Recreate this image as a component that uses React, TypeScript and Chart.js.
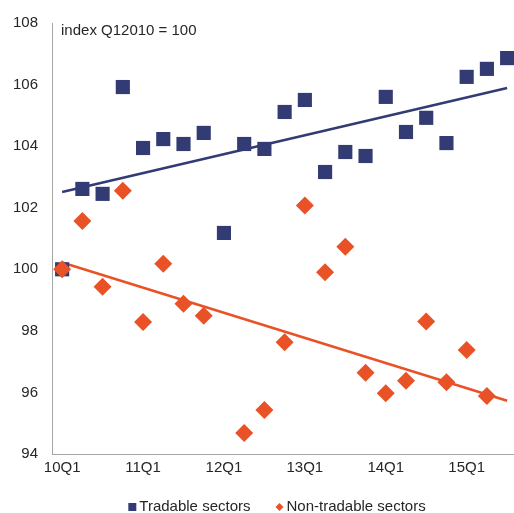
import React, { useEffect, useRef } from "react";
import { Chart, registerables } from "chart.js";

Chart.register(...registerables);

const quarters = [
  "10Q1", "10Q2", "10Q3", "10Q4",
  "11Q1", "11Q2", "11Q3", "11Q4",
  "12Q1", "12Q2", "12Q3", "12Q4",
  "13Q1", "13Q2", "13Q3", "13Q4",
  "14Q1", "14Q2", "14Q3", "14Q4",
  "15Q1", "15Q2", "15Q3",
];

const tradable = [
  100.0, 102.61, 102.45, 105.92, 103.94, 104.23, 104.07, 104.43,
  101.18, 104.07, 103.91, 105.11, 105.5, 103.16, 103.81, 103.68,
  105.6, 104.46, 104.92, 104.1, 106.25, 106.51, 106.86,
];

const nonTradable: (number | null)[] = [
  100.0, 101.57, 99.43, 102.55, 98.29, 100.18, 98.88, 98.49,
  null, 94.68, 95.43, 97.63, 102.07, 99.9, 100.73, 96.64,
  95.97, 96.38, 98.3, 96.33, 97.38, 95.88, null,
];

// trend line end points (first and last quarter)
const tradableTrend = [102.51, 105.89];
const nonTradableTrend = [100.22, 95.73];

const yTicks = [94, 96, 98, 100, 102, 104, 106, 108];
const xTickIndexes = [0, 4, 8, 12, 16, 20];

const NAVY = "#323B74";
const ORANGE = "#E85226";
const TEXT = "#262626";
const FONT = "'Liberation Sans', Arial, sans-serif";

const annotationPlugin = {
  id: "indexNote",
  afterDraw(chart: any) {
    const { ctx, chartArea } = chart;
    ctx.save();
    ctx.fillStyle = TEXT;
    ctx.font = `15px ${FONT}`;
    ctx.textBaseline = "middle";
    ctx.textAlign = "left";
    ctx.fillText("index Q12010 = 100", chartArea.left + 9, chartArea.top + 8);
    ctx.restore();
  },
};

// bottom legend: square / diamond marker followed by the dataset label
const legendPlugin = {
  id: "bottomLegend",
  afterDraw(chart: any) {
    const { ctx, chartArea } = chart;
    const items = chart.data.datasets.slice(0, 2);
    ctx.save();
    ctx.font = `15px ${FONT}`;
    ctx.textBaseline = "middle";
    ctx.textAlign = "left";
    const marker = 8;
    const gapMarker = 3;
    const gapItem = 25;
    const widths = items.map((d: any) => marker + gapMarker + ctx.measureText(d.label).width);
    const total = widths.reduce((a: number, b: number) => a + b, 0) + gapItem * (items.length - 1);
    const center = (chartArea.left + chart.width) / 2 - 6;
    let x = center - total / 2;
    const y = chart.height - 6;
    items.forEach((d: any, i: number) => {
      ctx.fillStyle = d.backgroundColor;
      if (d.pointStyle === "rectRot") {
        const cx = x + marker / 2;
        ctx.beginPath();
        ctx.moveTo(cx, y - marker / 2);
        ctx.lineTo(cx + marker / 2, y);
        ctx.lineTo(cx, y + marker / 2);
        ctx.lineTo(cx - marker / 2, y);
        ctx.closePath();
        ctx.fill();
      } else {
        ctx.fillRect(x, y - marker / 2, marker, marker);
      }
      ctx.fillStyle = TEXT;
      ctx.fillText(d.label, x + marker + gapMarker, y);
      x += widths[i] + gapItem;
    });
    ctx.restore();
  },
};

export default function App() {
  const ref = useRef<HTMLCanvasElement | null>(null);

  useEffect(() => {
    if (!ref.current) return;
    const last = quarters.length - 1;
    const chart = new Chart(ref.current, {
      type: "scatter",
      data: {
        datasets: [
          {
            label: "Tradable sectors",
            data: tradable.map((v, i) => ({ x: i, y: v })),
            pointStyle: "rect",
            pointRadius: 10,
            pointHoverRadius: 10,
            backgroundColor: NAVY,
            borderColor: NAVY,
            borderWidth: 0,
            showLine: false,
            order: 1,
          },
          {
            label: "Non-tradable sectors",
            data: nonTradable.map((v, i) => ({ x: i, y: v })),
            pointStyle: "rectRot",
            pointRadius: 9,
            pointHoverRadius: 9,
            backgroundColor: ORANGE,
            borderColor: ORANGE,
            borderWidth: 0,
            showLine: false,
            order: 0,
          },
          {
            label: "trendT",
            data: [
              { x: 0, y: tradableTrend[0] },
              { x: last, y: tradableTrend[1] },
            ],
            showLine: true,
            pointRadius: 0,
            borderColor: NAVY,
            borderWidth: 2.5,
            order: 2,
          },
          {
            label: "trendN",
            data: [
              { x: 0, y: nonTradableTrend[0] },
              { x: last, y: nonTradableTrend[1] },
            ],
            showLine: true,
            pointRadius: 0,
            borderColor: ORANGE,
            borderWidth: 2.5,
            order: 3,
          },
        ] as any,
      },
      options: {
        animation: false,
        responsive: true,
        maintainAspectRatio: false,
        layout: { autoPadding: false, padding: { top: 22, right: 0, left: -1, bottom: 31 } } as any,
        plugins: {
          legend: { display: false },
          tooltip: { enabled: false },
        },
        scales: {
          x: {
            type: "linear",
            min: -0.5,
            max: 22.34,
            afterBuildTicks: (axis: any) => {
              axis.ticks = xTickIndexes.map((v) => ({ value: v }));
            },
            ticks: {
              autoSkip: false,
              maxRotation: 0,
              padding: 5,
              color: TEXT,
              font: { family: FONT, size: 15 },
              callback: (v: any) => quarters[v as number] ?? "",
            },
            grid: { display: false, drawTicks: false },
            border: { display: true, color: "#A6A6A6", width: 1 },
          },
          y: {
            min: 94,
            max: 108,
            afterBuildTicks: (axis: any) => {
              axis.ticks = yTicks.map((v) => ({ value: v }));
            },
            ticks: {
              padding: 14,
              color: TEXT,
              font: { family: FONT, size: 15 },
            },
            grid: { display: false, drawTicks: false },
            border: { display: true, color: "#A6A6A6", width: 1 },
          },
        },
      },
      plugins: [annotationPlugin, legendPlugin],
    });
    return () => chart.destroy();
  }, []);

  return (
    <div style={{ position: "fixed", left: 0, top: 0, width: 514, height: 513 }}>
      <canvas ref={ref} />
    </div>
  );
}
